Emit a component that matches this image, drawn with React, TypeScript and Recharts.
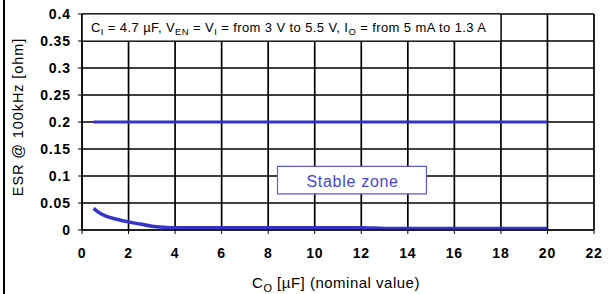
import React from 'react';
import {
  ComposedChart,
  Line,
  XAxis,
  YAxis,
  CartesianGrid,
  ReferenceArea,
} from 'recharts';

// ESR limit line (upper) and minimum ESR curve (lower), x = Co in uF
const upperCo = [0.5, 20];
const upperEsr = [0.2, 0.2];

const lowerCo = [0.5, 0.7, 1, 1.5, 2, 2.5, 3, 3.5, 4, 6, 8, 10, 12, 13, 16, 20];
const lowerEsr = [0.04, 0.033, 0.026, 0.02, 0.015, 0.011, 0.007, 0.005, 0.004, 0.004, 0.004, 0.004, 0.004, 0.003, 0.003, 0.003];

const xTicks = [0, 2, 4, 6, 8, 10, 12, 14, 16, 18, 20, 22];
const yTicks = [0, 0.05, 0.1, 0.15, 0.2, 0.25, 0.3, 0.35, 0.4];

const BLUE = '#3434c8';
const FONT = 'Liberation Sans, Arial, sans-serif';

const upperData = upperCo.map((co, i) => ({ co, esr: upperEsr[i] }));
const lowerData = lowerCo.map((co, i) => ({ co, esr: lowerEsr[i] }));

// test condition text, with subscripts
const ConditionLabel = (props: any) => {
  const { viewBox } = props;
  const x = viewBox.x + 9;
  const y = viewBox.y + 18;
  const sub = { fontSize: 9.5, dy: 3 };
  const back = { dy: -3 };
  return (
    <text x={x} y={y} fontSize={13} letterSpacing={0.4} fontFamily={FONT} fill="#000">
      <tspan>C</tspan>
      <tspan {...sub}>I</tspan>
      <tspan {...back}> = 4.7 µF, V</tspan>
      <tspan {...sub}>EN</tspan>
      <tspan {...back}> = V</tspan>
      <tspan {...sub}>I</tspan>
      <tspan {...back}> = from 3 V to 5.5 V, I</tspan>
      <tspan {...sub}>O</tspan>
      <tspan {...back}> = from 5 mA to 1.3 A</tspan>
    </text>
  );
};

const StableLabel = (props: any) => {
  const { viewBox } = props;
  return (
    <text
      x={viewBox.x + 29}
      y={viewBox.y + 21}
      fontSize={16}
      letterSpacing={0.7}
      fontFamily={FONT}
      fill="#4646d0"
    >
      Stable zone
    </text>
  );
};

const XLabel = (props: any) => {
  const { viewBox } = props;
  const cx = viewBox.x + viewBox.width / 2 - 2;
  return (
    <text
      x={cx}
      y={288}
      textAnchor="middle"
      fontSize={15}
      letterSpacing={0.5}
      fontFamily={FONT}
      fill="#000"
    >
      <tspan>C</tspan>
      <tspan fontSize={11} dy={4}>O</tspan>
      <tspan dy={-4}> [µF] (nominal value)</tspan>
    </text>
  );
};

const YLabel = (props: any) => {
  const { viewBox } = props;
  const cy = viewBox.y + viewBox.height / 2 - 5;
  return (
    <text
      x={23}
      y={cy}
      transform={`rotate(-90 23 ${cy})`}
      textAnchor="middle"
      fontSize={14.5}
      letterSpacing={0.9}
      fontFamily={FONT}
      fill="#000"
    >
      ESR @ 100kHz [ohm]
    </text>
  );
};

export default function App() {
  return (
    <div style={{ position: 'absolute', left: 0, top: 0, width: 610, height: 294, background: '#fff' }}>
      <div style={{ position: 'absolute', left: 3, top: 0, width: 2, height: 294, background: '#000' }} />
      <ComposedChart
        width={610}
        height={294}
        margin={{ top: 14, right: 16, bottom: 34, left: 22 }}
        style={{ position: 'absolute', left: 0, top: 0 }}
      >
        <CartesianGrid stroke="#000" strokeWidth={1.7} />
        <XAxis
          dataKey="co"
          type="number"
          domain={[0, 22]}
          ticks={xTicks}
          allowDataOverflow
          height={30}
          stroke="#000"
          tickSize={4}
          tickMargin={14}
          tick={{ fontSize: 14, fontWeight: 'bold', letterSpacing: 0.8, fontFamily: FONT, fill: '#000' }}
          label={<XLabel />}
        />
        <YAxis
          type="number"
          domain={[0, 0.4]}
          ticks={yTicks}
          allowDataOverflow
          width={60}
          stroke="#000"
          tickSize={4}
          tickMargin={7}
          tick={{ fontSize: 14, fontWeight: 'bold', letterSpacing: 0.9, fontFamily: FONT, fill: '#000' }}
          label={<YLabel />}
        />
        <ReferenceArea
          x1={0}
          x2={18}
          y1={0.35}
          y2={0.4}
          fill="#fff"
          fillOpacity={1}
          stroke="#000"
          strokeWidth={1}
          label={<ConditionLabel />}
        />
        <ReferenceArea
          x1={8.4}
          x2={14.8}
          y1={0.067}
          y2={0.118}
          fill="#fff"
          fillOpacity={1}
          stroke="#5a5ad8"
          strokeWidth={1.2}
          label={<StableLabel />}
        />
        <Line
          data={upperData}
          dataKey="esr"
          type="linear"
          stroke={BLUE}
          strokeWidth={3}
          dot={false}
          isAnimationActive={false}
        />
        <Line
          data={lowerData}
          dataKey="esr"
          type="monotone"
          stroke={BLUE}
          strokeWidth={3.5}
          dot={false}
          isAnimationActive={false}
        />
      </ComposedChart>
    </div>
  );
}
